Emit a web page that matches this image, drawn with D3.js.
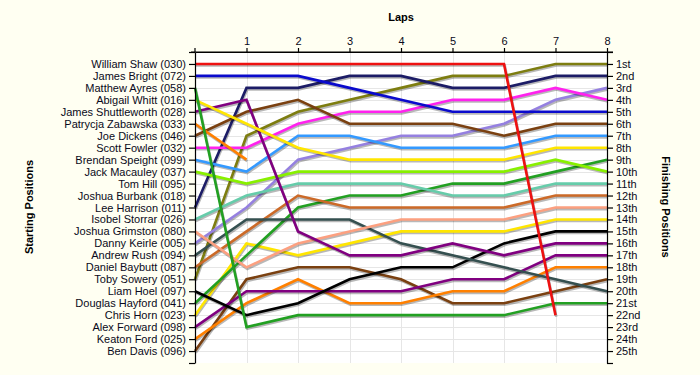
<!DOCTYPE html>
<html>
<head>
<meta charset="utf-8">
<script src="https://cdn.jsdelivr.net/npm/d3@7"></script>
<style>
  html, body { margin: 0; padding: 0; background: #fffff2; }
  svg { display: block; }
  text { font-family: Arial, "Liberation Sans", sans-serif; }
</style>
</head>
<body>
<svg id="chart" width="700" height="375"></svg>
<script>
// ---- data ----
const laps = [0, 1, 2, 3, 4, 5, 6, 7, 8];
const lapLabels = ["1", "2", "3", "4", "5", "6", "7", "8"];
const drivers = [
  "William Shaw (030)", "James Bright (072)", "Matthew Ayres (058)", "Abigail Whitt (016)",
  "James Shuttleworth (028)", "Patrycja Zabawska (033)", "Joe Dickens (046)", "Scott Fowler (032)",
  "Brendan Speight (099)", "Jack Macauley (037)", "Tom Hill (095)", "Joshua Burbank (018)",
  "Lee Harrison (011)", "Isobel Storrar (026)", "Joshua Grimston (080)", "Danny Keirle (005)",
  "Andrew Rush (094)", "Daniel Baybutt (087)", "Toby Sowery (051)", "Liam Hoel (097)",
  "Douglas Hayford (041)", "Chris Horn (023)", "Alex Forward (098)", "Keaton Ford (025)",
  "Ben Davis (096)"
];
// position of each driver at laps 0..8 (shorter list = retired)
const williamShaw       = [1, 1, 1, 1, 1, 1, 1, 22];
const jamesBright       = [2, 2, 2, 3, 4, 5, 5, 5, 5];
const matthewAyres      = [3, 23, 22, 22, 22, 22, 22, 21, 21];
const abigailWhitt      = [4, 6, 8, 9, 9, 9, 9, 8, 8];
const jamesShuttleworth = [5, 4, 15, 17, 17, 16, 17, 16, 16];
const patrycjaZabawska  = [6, 9];
const joeDickens        = [7, 5, 4, 6, 6, 6, 7, 6, 6];
const scottFowler       = [8, 8, 6, 5, 5, 4, 4, 3, 4];
const brendanSpeight    = [9, 10, 7, 7, 8, 8, 8, 7, 7];
const jackMacauley      = [10, 11, 10, 10, 10, 10, 10, 9, 10];
const tomHill           = [];
const joshuaBurbank     = [];
const leeHarrison       = [13, 3, 3, 2, 2, 3, 3, 2, 2];
const isobelStorrar     = [14, 12, 11, 11, 11, 12, 12, 11, 11];
const joshuaGrimston    = [15, 18, 16, 15, 14, 14, 14, 13, 13];
const dannyKeirle       = [16, 13, 9, 8, 7, 7, 6, 4, 3];
const andrewRush        = [17, 14, 14, 14, 16, 17, 18, 19, 20];
const danielBaybutt     = [18, 15, 12, 13, 13, 13, 13, 12, 12];
const tobySowery        = [19, 7, 5, 4, 3, 2, 2, 1, 1];
const liamHoel          = [20, 22, 21, 19, 18, 18, 16, 15, 15];
const douglasHayford    = [21, 17, 13, 12, 12, 11, 11, 10, 9];
const chrisHorn         = [22, 16, 17, 16, 15, 15, 15, 14, 14];
const alexForward       = [23, 20, 20, 20, 20, 19, 19, 17, 17];
const keatonFord        = [24, 21, 19, 21, 21, 20, 20, 18, 18];
const benDavis          = [25, 19, 18, 18, 19, 21, 21, 20, 19];
const positions = [
  williamShaw, jamesBright, matthewAyres, abigailWhitt, jamesShuttleworth, patrycjaZabawska,
  joeDickens, scottFowler, brendanSpeight, jackMacauley, tomHill, joshuaBurbank, leeHarrison,
  isobelStorrar, joshuaGrimston, dannyKeirle, andrewRush, danielBaybutt, tobySowery, liamHoel,
  douglasHayford, chrisHorn, alexForward, keatonFord, benDavis
];
const lineColors = [
  "#ee1111", "#0a0acc", "#22a022", "#ffe600", "#800080", "#ff8000", "#7a4010", "#ff22ee",
  "#3399ff", "#88f000", "#999999", "#999999", "#1c1c66", "#66ccaa", "#fca080", "#9580e0",
  "#355050", "#cc6a28", "#7d7d10", "#000000", "#22a022", "#ffe600", "#800080", "#ff8000",
  "#7a4010"
];
const finishLabels = [
  "1st", "2nd", "3rd", "4th", "5th", "6th", "7th", "8th", "9th", "10th", "11th", "12th", "13th",
  "14th", "15th", "16th", "17th", "18th", "19th", "20th", "21st", "22nd", "23rd", "24th", "25th"
];

// ---- layout ----
const svg = d3.select("#chart");
const plotLeft = 195, plotRight = 607, plotTop = 52, plotBottom = 363;
const x = d3.scaleLinear().domain([0, 8]).range([plotLeft, plotRight]);
const y = d3.scaleLinear().domain([0, 26]).range([plotTop, plotBottom]);
const rows = d3.range(1, 26);

svg.append("rect").attr("width", 700).attr("height", 375).attr("fill", "#fffff2");
svg.append("rect").attr("x", plotLeft).attr("y", plotTop)
  .attr("width", plotRight - plotLeft).attr("height", plotBottom - plotTop).attr("fill", "#ffffff");

// grid
const grid = svg.append("g").attr("stroke", "#e6e6e6").attr("stroke-width", 1);
grid.selectAll("line.h").data(rows).join("line").attr("class", "h")
  .attr("x1", plotLeft).attr("x2", plotRight)
  .attr("y1", d => Math.round(y(d)) + 0.5).attr("y2", d => Math.round(y(d)) + 0.5);
grid.selectAll("line.v").data(laps.slice(1, 8)).join("line").attr("class", "v")
  .attr("y1", plotTop).attr("y2", plotBottom)
  .attr("x1", d => Math.round(x(d)) + 0.5).attr("x2", d => Math.round(x(d)) + 0.5);

// lines
const line = d3.line().x((d, i) => x(laps[i])).y(d => y(d));
const order = d3.range(drivers.length).reverse();
const linesG = svg.append("g");
order.forEach(i => {
  const p = positions[i];
  if (p.length < 2) return;
  linesG.append("path").attr("d", line(p)).attr("fill", "none")
    .attr("stroke", "rgba(0,0,0,0.28)").attr("stroke-width", 2.6)
    .attr("transform", "translate(0.8,1.6)");
  linesG.append("path").attr("d", line(p)).attr("fill", "none")
    .attr("stroke", lineColors[i]).attr("stroke-width", 2.6);
});

// axes
const fontSize = "11px";
const leftAxis = d3.axisLeft(y).tickValues(d3.range(0, 27))
  .tickFormat(d => drivers[d - 1] || "").tickSize(6).tickPadding(3).tickSizeOuter(0);
const gl = svg.append("g").attr("transform", `translate(${plotLeft},0)`).call(leftAxis);
const rightAxis = d3.axisRight(y).tickValues(d3.range(0, 27))
  .tickFormat(d => finishLabels[d - 1] || "").tickSize(6).tickPadding(3).tickSizeOuter(0);
const gr = svg.append("g").attr("transform", `translate(${plotRight},0)`).call(rightAxis);
const topAxis = d3.axisTop(x).tickValues(laps.slice(1))
  .tickFormat((d, i) => lapLabels[i]).tickSize(4).tickPadding(3).tickSizeOuter(0);
const gt = svg.append("g").attr("transform", `translate(0,${plotTop})`).call(topAxis);
[gl, gr, gt].forEach(g => {
  g.attr("font-size", fontSize).attr("font-family", "Arial, 'Liberation Sans', sans-serif");
  g.selectAll("path, line").attr("stroke", "#000").attr("stroke-width", 1.2);
  g.selectAll("text").attr("fill", "#0a0a20");
});
svg.append("line").attr("x1", plotLeft - 4).attr("x2", plotRight + 6)
  .attr("y1", plotTop).attr("y2", plotTop).attr("stroke", "#000").attr("stroke-width", 1.2);
svg.append("line").attr("x1", plotLeft).attr("x2", plotLeft)
  .attr("y1", plotTop - 4).attr("y2", plotTop).attr("stroke", "#000").attr("stroke-width", 1.2);

// titles
svg.append("text").attr("x", 401).attr("y", 21).attr("text-anchor", "middle")
  .attr("font-size", "11px").attr("font-weight", "bold").text("Laps");
svg.append("text").attr("transform", "translate(33,207) rotate(-90)").attr("text-anchor", "middle")
  .attr("font-size", "11px").attr("font-weight", "bold").text("Starting Positions");
svg.append("text").attr("transform", "translate(662,207) rotate(90)").attr("text-anchor", "middle")
  .attr("font-size", "11px").attr("font-weight", "bold").text("Finishing Positions");
</script>
</body>
</html>
